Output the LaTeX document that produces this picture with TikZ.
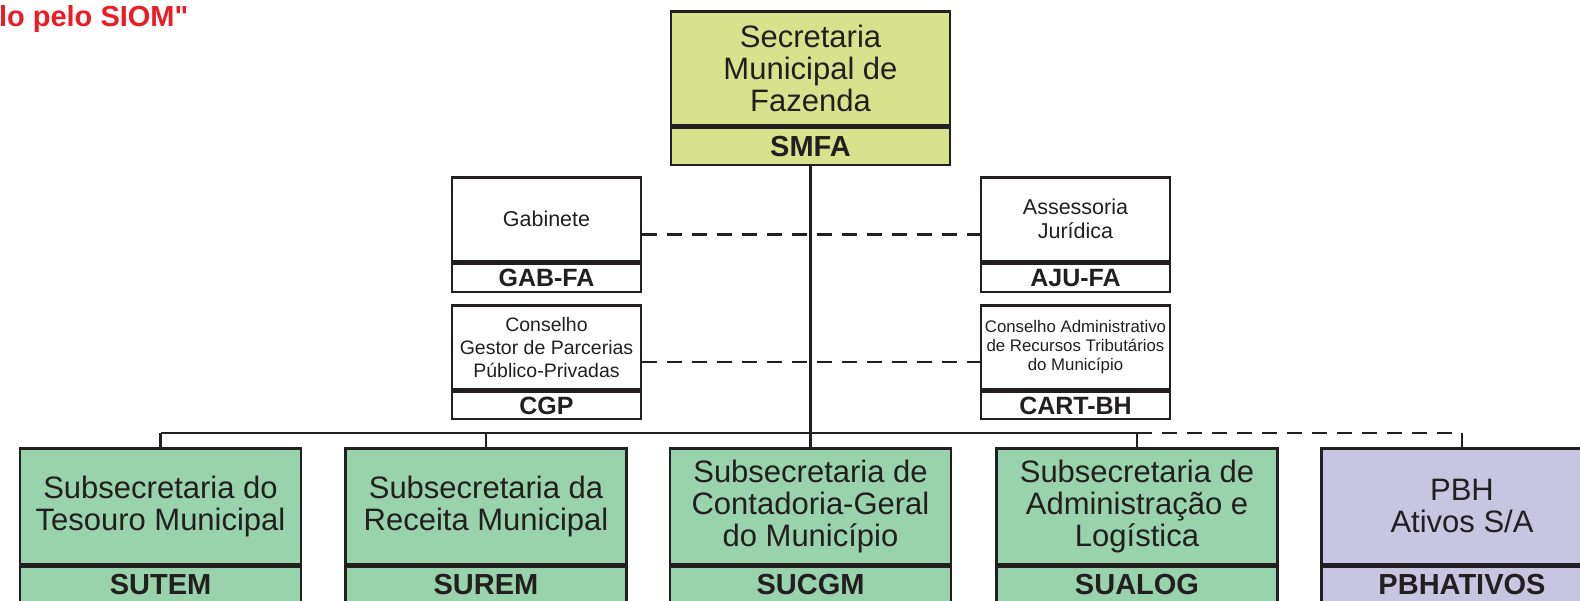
\documentclass[tikz,border=0pt]{standalone}
\usepackage{fontspec}
\setmainfont{Liberation Sans}
\newfontfamily\notefont{Liberation Sans}
\usepackage{tikz}
\usetikzlibrary{positioning,calc}
\definecolor{smfagreen}{RGB}{214,226,140}
\definecolor{subgreen}{RGB}{153,211,172}
\definecolor{pbhlilac}{RGB}{200,197,226}
\definecolor{siomred}{RGB}{237,28,36}
\definecolor{linegray}{RGB}{35,31,32}
\def\busy{433}

\begin{document}
\begin{tikzpicture}[x=1pt,y=-1pt,line width=2pt,draw=linegray]
    \tikzstyle{box}=[rectangle,draw=linegray,line width=2.6pt,inner sep=0pt,align=center,text=linegray]
    \tikzstyle{head box}=[box,fill=smfagreen,minimum width=279pt,minimum height=114pt,font=\fontsize{31}{32}\selectfont]
    \tikzstyle{head code}=[box,fill=smfagreen,minimum width=279pt,minimum height=37pt,font=\bfseries\fontsize{29}{30}\selectfont]
    \tikzstyle{staff box}=[box,fill=white,minimum width=189pt,minimum height=84pt,font=\fontsize{21.5}{24}\selectfont]
    \tikzstyle{staff code}=[box,fill=white,minimum width=189pt,minimum height=28pt,font=\bfseries\fontsize{25}{26}\selectfont]
    \tikzstyle{sub box}=[box,minimum width=281pt,minimum height=116pt,font=\fontsize{31}{32}\selectfont]
    \tikzstyle{sub code}=[box,minimum width=281pt,minimum height=35pt,font=\bfseries\fontsize{29}{30}\selectfont]
    \tikzstyle{link}=[draw=linegray,line width=2.4pt]
    \tikzstyle{dash link}=[link,dash pattern=on 15pt off 10pt]

    \useasboundingbox (0,0) rectangle (1580,601);

    % Red note, cut at the left edge
    \node[anchor=base west,inner sep=0pt,text=siomred,font=\notefont\bfseries\fontsize{29}{30}\selectfont] (siom) at (-2,27) {lo pelo SIOM"};

    % Draw the secretaria
    \node[head box,anchor=north] (smfa) at (810.5,10) {Secretaria\\Municipal de\\Fazenda};
    \node[head code,below=0pt of smfa] (smfa-c) {SMFA};

    % Draw the staff units
    \node[staff box,anchor=north] (gab) at (546.5,176) {Gabinete};
    \node[staff code,below=0pt of gab] (gab-c) {GAB-FA};
    \node[staff box,anchor=north] (aju) at (1075.5,176) {Assessoria\\Jurídica};
    \node[staff code,below=0pt of aju] (aju-c) {AJU-FA};
    \node[staff box,anchor=north,font=\fontsize{19.5}{23}\selectfont] (cgp) at (546.5,304) {Conselho\\Gestor de Parcerias\\Público-Privadas};
    \node[staff code,below=0pt of cgp,minimum height=27pt] (cgp-c) {CGP};
    \node[staff box,anchor=north,font=\fontsize{16.8}{19}\selectfont] (cart) at (1075.5,304) {Conselho Administrativo\\de Recursos Tributários\\do Município};
    \node[staff code,below=0pt of cart,minimum height=27pt] (cart-c) {CART-BH};

    % Draw the subsecretarias
    \foreach \name / \x / \colour / \title / \code in {sutem/160.5/subgreen/{Subsecretaria do\\Tesouro Municipal}/SUTEM,
            surem/486/subgreen/{Subsecretaria da\\Receita Municipal}/SUREM,
            sucgm/810.5/subgreen/{Subsecretaria de\\Contadoria-Geral\\do Município}/SUCGM,
            sualog/1137/subgreen/{Subsecretaria de\\Administração e\\Logística}/SUALOG,
            pbh/1462/pbhlilac/{PBH\\Ativos S/A}/PBHATIVOS}
    {
        \node[sub box,fill=\colour,anchor=north] (\name) at (\x,447) {\title};
        \node[sub code,fill=\colour,below=0pt of \name] (\name-c) {\code};
    }

    % Connect the secretaria with the bus
    \coordinate (bus) at (0,\busy);
    \draw[link] (smfa-c.south) -- (smfa-c.south |- bus);
    \draw[link] (sutem.north |- bus) -- (sualog.north |- bus);
    \foreach \name in {sutem,surem,sucgm,sualog,pbh}
        \draw[link] (\name.north |- bus) -- (\name.north);
    \draw[dash link] (sualog.north |- bus) -- (pbh.north |- bus);

    % Staff links
    \draw[dash link] ($(gab.north east)!.5!(gab-c.south east)$) -- ($(aju.north west)!.5!(aju-c.south west)$);
    \draw[dash link] ($(cgp.north east)!.5!(cgp-c.south east)$) -- ($(cart.north west)!.5!(cart-c.south west)$);

\end{tikzpicture}
\end{document}
